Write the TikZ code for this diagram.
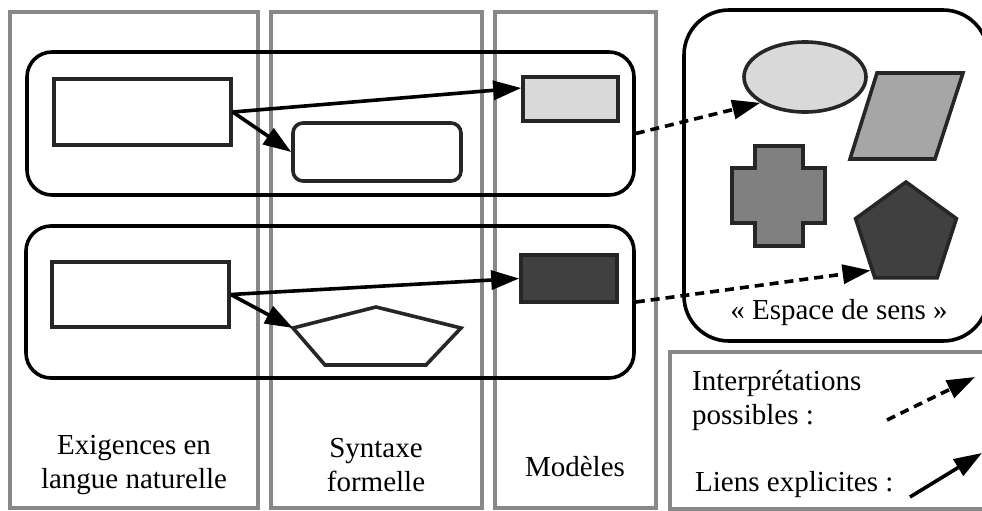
\documentclass[tikz,border=0pt]{standalone}
\usepackage{fontspec}
\setmainfont{Liberation Serif}
\usetikzlibrary{shapes.geometric,arrows.meta}
\definecolor{colgray}{HTML}{888888}
\definecolor{boxline}{HTML}{262626}
\definecolor{fillA}{HTML}{D9D9D9}
\definecolor{fillB}{HTML}{A6A6A6}
\definecolor{fillC}{HTML}{808080}
\definecolor{fillD}{HTML}{404040}

\begin{document}
\begin{tikzpicture}[x=1pt, y=-1pt,
    font=\rmfamily\fontsize{29}{34}\selectfont,
    column/.style={draw=colgray, line width=4pt},
    group/.style={draw, line width=3.6pt, rounded corners=25pt, inner sep=0pt},
    box/.style={draw=boxline, line width=3.6pt, inner sep=0pt},
    link/.style={line width=3.6pt, -{Triangle[length=28pt,width=19pt]}},
    interp/.style={link, dash pattern=on 9pt off 6pt}]
  \useasboundingbox (0,0) rectangle (982,511);
  % colonnes
  \draw[column] (10,12) rectangle (258,508);
  \draw[column] (271,12) rectangle (482,508);
  \draw[column] (495,12) rectangle (656,508);
  \node[align=center] (lblreq) at (134,465) {Exigences en\\langue naturelle};
  \node[align=center] (lblsyn) at (376,465) {Syntaxe\\formelle};
  \node (lblmod) at (575,467) {Modèles};
  % groupes
  \node[group, minimum width=607pt, minimum height=143pt] (grp1) at (330.5,123.5) {};
  \node[group, minimum width=608pt, minimum height=152pt] (grp2) at (330,302) {};
  \node[box, minimum width=177pt, minimum height=66pt] (req1) at (142.5,112) {};
  \node[box, rounded corners=10pt, minimum width=168pt, minimum height=58pt] (syn1) at (377,152) {};
  \node[box, fill=fillA, minimum width=95pt, minimum height=44pt] (mod1) at (570.5,99) {};
  \node[box, minimum width=177pt, minimum height=65pt] (req2) at (140.5,294.5) {};
  \draw[box] (293,328) coordinate (syn2) -- (376,307) -- (461,328) -- (426,365) -- (325,365) -- cycle;
  \node[box, fill=fillD, minimum width=96pt, minimum height=47pt] (mod2) at (569,278.5) {};
  % espace de sens
  \node[group, rounded corners=45pt, minimum width=304pt, minimum height=331pt] (espace) at (836,175.5) {};
  \node[box, ellipse, fill=fillA, minimum width=122pt, minimum height=70pt] (sens1) at (805,77) {};
  \draw[box, fill=fillB] (877,73) -- (963,73) -- (935,159) -- (850,159) -- cycle;
  \draw[box, fill=fillC] (755,146) -- (803,146) -- (803,168) -- (825,168) -- (825,223) -- (803,223)
    -- (803,246) -- (755,246) -- (755,223) -- (732,223) -- (732,168) -- (755,168) -- cycle;
  \node[box, regular polygon, regular polygon sides=5, fill=fillD, minimum size=106pt] (sens4) at (906,235) {};
  \node (lblsens) at (839,313) {« Espace de sens »};
  % liens
  \draw[link] (req1.east) -- ([yshift=11pt]mod1.west);
  \draw[link] (req1.east) -- (syn1.west);
  \draw[link] (req2.east) -- (mod2.west);
  \draw[link] (req2.east) -- (syn2);
  \draw[interp] ([yshift=-10pt]grp1.east) -- (sens1.210);
  \draw[interp] (grp2.east) -- (sens4.225);
  % legende
  \draw[column] (670,352) rectangle (1000,509);
  \node[anchor=west, align=left, inner sep=0pt] (lgdinterp) at (692,400) {Interprétations\\possibles :};
  \node[anchor=west, inner sep=0pt] (lgdlien) at (695,485) {Liens explicites :};
  \coordinate (lgd1a) at (887,420);
  \coordinate (lgd1b) at (975,377);
  \coordinate (lgd2a) at (910,497);
  \coordinate (lgd2b) at (982,453);
  \draw[interp] (lgd1a) -- (lgd1b);
  \draw[link] (lgd2a) -- (lgd2b);
\end{tikzpicture}
\end{document}
